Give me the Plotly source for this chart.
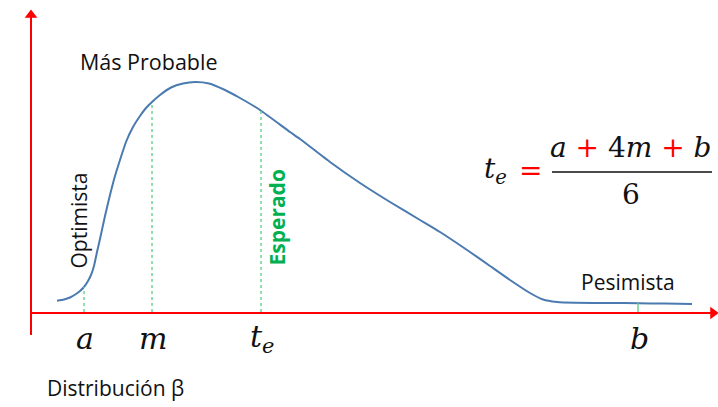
import numpy as np
import plotly.graph_objects as go

# Beta-shaped duration curve: time measured from the origin, relative density
curve_t = [26, 33, 39, 45, 49, 53, 57, 60, 63, 66, 69, 74, 79, 84, 89, 95, 102, 109,
           115, 121, 129, 140, 152, 164, 178, 194, 209, 229, 259, 269, 299, 329,
           359, 389, 409, 439, 459, 479, 499, 512, 526, 544, 579, 607, 634, 661]
curve_f = [12.3, 13.5, 15.5, 19, 22, 26, 32, 38, 47, 61, 74, 97, 118, 137, 153, 171,
           186, 197, 205, 211, 218, 225.5, 229.5, 231, 229.5, 223, 215, 203, 181, 174,
           151, 130, 111, 93, 81, 61, 47, 33, 20, 13.5, 11, 10.2, 10, 9.8, 9.4, 9]

# The four time estimates marked on the time axis
estimate_names = ["a", "m", "te", "b"]
estimate_t = [53, 121, 230, 607]
estimate_tick_text = ["a", "m", "t<sub>e</sub>", "b"]

# Extent of the two axes (time axis and density axis)
time_axis = [-1, 680]
density_axis = [-22, 296]

BLUE = "#4a7ab0"
RED = "#ff0000"
GREEN_LINE = "#6fd393"
GREEN_TEXT = "#00b050"
SANS = "Open Sans"
MATH = "DejaVu Serif"

fig = go.Figure()

# Red axes, each ending in a filled arrowhead
fig.add_trace(go.Scatter(x=time_axis, y=[0, 0], mode="lines",
                         line=dict(color=RED, width=2), hoverinfo="skip"))
fig.add_trace(go.Scatter(x=[time_axis[1] + 2], y=[0], mode="markers",
                         marker=dict(symbol="triangle-right", size=11, color=RED,
                                     line=dict(width=0)), hoverinfo="skip"))
fig.add_trace(go.Scatter(x=[0, 0], y=density_axis, mode="lines",
                         line=dict(color=RED, width=2), hoverinfo="skip"))
fig.add_trace(go.Scatter(x=[0], y=[density_axis[1] + 2], mode="markers",
                         marker=dict(symbol="triangle-up", size=11, color=RED,
                                     line=dict(width=0)), hoverinfo="skip"))

fig.add_trace(go.Scatter(
    x=curve_t, y=curve_f, mode="lines",
    line=dict(color=BLUE, width=2, shape="spline", smoothing=0.5),
    hoverinfo="skip",
))

# Guide lines from the time axis up to the curve at each estimate
for name, t in zip(estimate_names, estimate_t):
    f = float(np.interp(t, curve_t, curve_f))
    fig.add_trace(go.Scatter(
        x=[t, t], y=[1, f], mode="lines",
        line=dict(color=GREEN_LINE, width=1.5,
                  dash="solid" if name == "b" else "3px,3px"),
        hoverinfo="skip",
    ))

annotations = []
ink = "#111111"

# Estimate labels under the time axis
for t, text in zip(estimate_t, estimate_tick_text):
    annotations.append(dict(x=t + 1, y=-25, xref="x", yref="y", text=text, showarrow=False,
                            font=dict(family=MATH, size=30, color=ink, style="italic"),
                            xanchor="center", yanchor="middle"))

def label(x, y, text, size=21, color=ink, angle=0, weight="normal"):
    annotations.append(dict(x=x, y=y, xref="x", yref="y", text=text, showarrow=False,
                            textangle=angle,
                            font=dict(family=SANS, size=size, color=color, weight=weight),
                            xanchor="center", yanchor="middle"))

label(118, 252, "Más Probable", size=21.5)
label(47.5, 92, "Optimista", angle=-90)
label(245.5, 95, "Esperado", color=GREEN_TEXT, angle=-90, weight="bold")
label(597, 31, "Pesimista")
label(84, -75, "Distribución β")

# Expected-time formula
mfont = dict(family=MATH, size=28, color=ink, style="italic")
annotations.append(dict(x=464, y=143, xref="x", yref="y", text="t<sub>e</sub>",
                        showarrow=False, font=mfont, xanchor="center", yanchor="middle"))
annotations.append(dict(x=499, y=143, xref="x", yref="y", text="=",
                        showarrow=False, font=dict(family=MATH, size=28, color=RED),
                        xanchor="center", yanchor="middle"))
annotations.append(dict(x=600, y=166, xref="x", yref="y",
                        text="a <span style='color:#ff0000;font-style:normal'>+</span> "
                             "<span style='font-style:normal'>4</span>m "
                             "<span style='color:#ff0000;font-style:normal'>+</span> b",
                        showarrow=False, font=mfont, xanchor="center", yanchor="middle"))
annotations.append(dict(x=600, y=119, xref="x", yref="y", text="6",
                        showarrow=False, font=dict(family=MATH, size=28, color=ink),
                        xanchor="center", yanchor="middle"))

fig.add_shape(type="line", x0=521, x1=681, y0=141, y1=141, xref="x", yref="y",
              line=dict(color=ink, width=1.5))

fig.update_layout(
    width=718, height=407,
    margin=dict(l=0, r=0, t=0, b=0),
    paper_bgcolor="white", plot_bgcolor="white",
    xaxis=dict(range=[-31, 687], visible=False, fixedrange=True),
    yaxis=dict(range=[-94, 313], visible=False, fixedrange=True),
    annotations=annotations,
    showlegend=False,
)

fig.write_html("out.html")
